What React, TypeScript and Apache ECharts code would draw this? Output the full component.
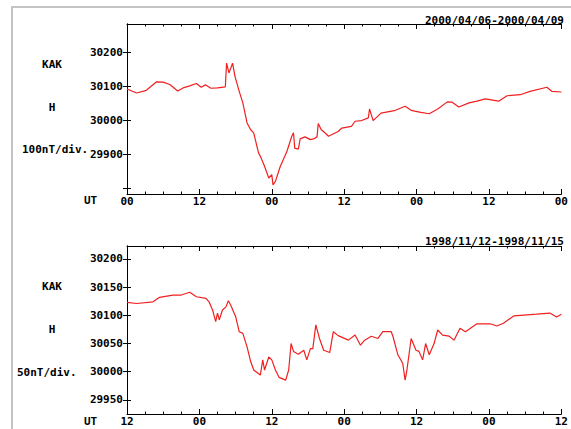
import React, { useEffect, useRef } from "react";
import * as echarts from "echarts";

const topTitle = "2000/04/06-2000/04/09";
const bottomTitle = "1998/11/12-1998/11/15";
const topXLabels = ["00", "12", "00", "12", "00", "12", "00"];
const bottomXLabels = ["12", "00", "12", "00", "12", "00", "12"];
const topYTicks = [29800, 29900, 30000, 30100, 30200];
const topYLabels = [29900, 30000, 30100, 30200];
const bottomYTicks = [29950, 30000, 30050, 30100, 30150, 30200];

const topData: number[][] = [
  [0, 30092], [1.6, 30080], [3.2, 30088], [4.9, 30113], [6.0, 30112], [7.1, 30105],
  [8.4, 30086], [9.3, 30095], [10.4, 30101], [11.5, 30108], [12.3, 30097], [13.0, 30104],
  [13.9, 30094], [15.0, 30095], [16.3, 30098], [16.5, 30168], [16.9, 30139], [17.5, 30168],
  [17.9, 30129], [18.6, 30085], [19.2, 30051], [19.9, 29992], [20.5, 29972], [21.0, 29963],
  [21.8, 29904], [22.1, 29894], [22.7, 29869], [23.5, 29830], [24.0, 29840], [24.2, 29810],
  [24.6, 29820], [25.4, 29864], [26.5, 29908], [27.3, 29952], [27.6, 29963], [27.8, 29918],
  [28.4, 29915], [28.7, 29945], [29.5, 29951], [30.4, 29943], [30.9, 29945], [31.5, 29951],
  [31.7, 29990], [32.2, 29972], [32.8, 29963], [33.4, 29953], [35.0, 29967], [35.6, 29977],
  [37.2, 29982], [37.8, 29997], [38.9, 29999], [40.0, 30007], [40.2, 30033], [40.8, 29999],
  [42.1, 30021], [44.3, 30028], [46.1, 30041], [47.1, 30029], [48.7, 30023], [50.1, 30019],
  [51.5, 30033], [53.1, 30054], [53.9, 30053], [55.0, 30039], [56.7, 30051], [58.0, 30056],
  [59.4, 30063], [61.6, 30056], [63.0, 30072], [65.2, 30075], [66.8, 30085], [69.6, 30097],
  [70.4, 30085], [72, 30083],
];

const bottomData: number[][] = [
  [0, 30123], [1.6, 30121], [4.3, 30124], [5.4, 30132], [7.6, 30136], [9.0, 30136],
  [10.4, 30141], [11.5, 30133], [13.1, 30130], [13.6, 30124], [14.2, 30109], [14.7, 30089],
  [15.0, 30104], [15.3, 30092], [15.8, 30109], [16.4, 30115], [16.8, 30126], [17.2, 30118],
  [18.0, 30098], [18.6, 30071], [19.2, 30068], [19.9, 30044], [20.5, 30018], [21.0, 30003],
  [22.1, 29994], [22.5, 30021], [22.8, 30003], [23.5, 30026], [24.0, 30021], [24.6, 30003],
  [25.2, 29990], [26.3, 29985], [26.8, 30003], [27.2, 30050], [27.6, 30036], [28.4, 30031],
  [29.3, 30038], [29.8, 30021], [30.4, 30041], [30.8, 30041], [31.3, 30083], [31.9, 30059],
  [32.6, 30038], [33.6, 30034], [34.2, 30071], [35.0, 30064], [36.7, 30056], [37.8, 30065],
  [38.7, 30047], [39.4, 30056], [40.5, 30063], [41.6, 30059], [42.4, 30071], [43.8, 30071],
  [44.1, 30062], [44.9, 30030], [45.7, 30015], [46.1, 29985], [46.4, 30003], [47.1, 30059],
  [47.9, 30038], [48.4, 30036], [49.0, 30021], [49.5, 30050], [50.1, 30030], [50.9, 30050],
  [51.5, 30074], [52.3, 30065], [53.4, 30063], [54.2, 30056], [55.2, 30077], [56.1, 30071],
  [58.0, 30085], [60.2, 30085], [61.3, 30081], [62.4, 30086], [64.1, 30099], [66.3, 30101],
  [67.9, 30102], [70.1, 30104], [71.2, 30097], [72, 30102],
];

const FONT = "DejaVu Sans Mono";
const labelStyle = { fontFamily: FONT, fontWeight: "bold" as const, fontSize: 11, color: "#000" };

export default function App() {
  const ref = useRef<HTMLDivElement>(null);
  useEffect(() => {
    if (!ref.current) return;
    const chart = echarts.init(ref.current, undefined, { renderer: "svg" });
    const axisLine = { show: true, lineStyle: { color: "#000", width: 1 } };
    const xAxisFor = (grid: number, labels: string[], pos: "bottom" | "top") => ({
      type: "value" as const,
      gridIndex: grid,
      position: pos,
      min: 0,
      max: 72,
      interval: 12,
      axisLine,
      axisTick: { show: true, inside: true, length: 5, lineStyle: { color: "#000" } },
      minorTick: { show: true, splitNumber: 4, length: 2.5, lineStyle: { color: "#000" } },
      splitLine: { show: false },
      axisLabel: {
        show: pos === "bottom",
        margin: 2,
        ...labelStyle,
        formatter: (v: number) => labels[Math.round(v / 12)] ?? "",
      },
    });
    const yAxisFor = (grid: number, min: number, max: number, ticks: number[], labels: number[], pos: "left" | "right") => ({
      type: "value" as const,
      gridIndex: grid,
      position: pos,
      min,
      max,
      axisLine,
      splitLine: { show: false },
      axisTick: { show: true, inside: true, length: 4, customValues: ticks, lineStyle: { color: "#000" } },
      axisLabel: {
        show: pos === "left",
        margin: 4,
        customValues: labels,
        ...labelStyle,
        formatter: (v: number) => String(v),
      },
    });
    const leftText = (text: string, x: number, y: number, align: string = "center") => ({
      type: "text",
      x,
      y,
      style: { text, fontFamily: FONT, fontWeight: "bold", fontSize: 11, fill: "#000", align, verticalAlign: "middle" },
    });
    chart.setOption({
      animation: false,
      backgroundColor: "#fff",
      grid: [
        { left: 127, top: 24, width: 438, height: 170 },
        { left: 127, top: 246, width: 438, height: 168 },
      ],
      xAxis: [
        xAxisFor(0, topXLabels, "bottom"),
        xAxisFor(0, topXLabels, "top"),
        xAxisFor(1, bottomXLabels, "bottom"),
        xAxisFor(1, bottomXLabels, "top"),
      ],
      yAxis: [
        yAxisFor(0, 29783, 30283, topYTicks, topYLabels, "left"),
        yAxisFor(0, 29783, 30283, topYTicks, topYLabels, "right"),
        yAxisFor(1, 29925, 30223, bottomYTicks, bottomYTicks, "left"),
        yAxisFor(1, 29925, 30223, bottomYTicks, bottomYTicks, "right"),
      ],
      series: [
        {
          type: "line",
          xAxisIndex: 0,
          yAxisIndex: 0,
          data: topData,
          showSymbol: false,
          lineStyle: { color: "#f02020", width: 1.2 },
        },
        {
          type: "line",
          xAxisIndex: 2,
          yAxisIndex: 2,
          data: bottomData,
          showSymbol: false,
          lineStyle: { color: "#f02020", width: 1.2 },
        },
      ],
      graphic: [
        { type: "rect", shape: { x: 11, y: 6, width: 560, height: 2 }, style: { fill: "#c4c4c4" } },
        { type: "rect", shape: { x: 11, y: 6, width: 2, height: 423 }, style: { fill: "#c4c4c4" } },
        {
          type: "text",
          x: 564,
          y: 20,
          style: { text: topTitle, fontFamily: FONT, fontWeight: "bold", fontSize: 11, fill: "#000", align: "right", verticalAlign: "middle" },
        },
        {
          type: "text",
          x: 564,
          y: 241,
          style: { text: bottomTitle, fontFamily: FONT, fontWeight: "bold", fontSize: 11, fill: "#000", align: "right", verticalAlign: "middle" },
        },
        leftText("KAK", 52, 64),
        leftText("H", 52, 107),
        leftText("100nT/div.", 22, 149, "left"),
        leftText("UT", 84, 200, "left"),
        leftText("KAK", 52, 286),
        leftText("H", 52, 329),
        leftText("50nT/div.", 17, 372, "left"),
        leftText("UT", 84, 421, "left"),
      ],
    });
    return () => chart.dispose();
  }, []);
  return <div ref={ref} style={{ position: "fixed", left: 0, top: 0, width: 571, height: 429 }} />;
}
